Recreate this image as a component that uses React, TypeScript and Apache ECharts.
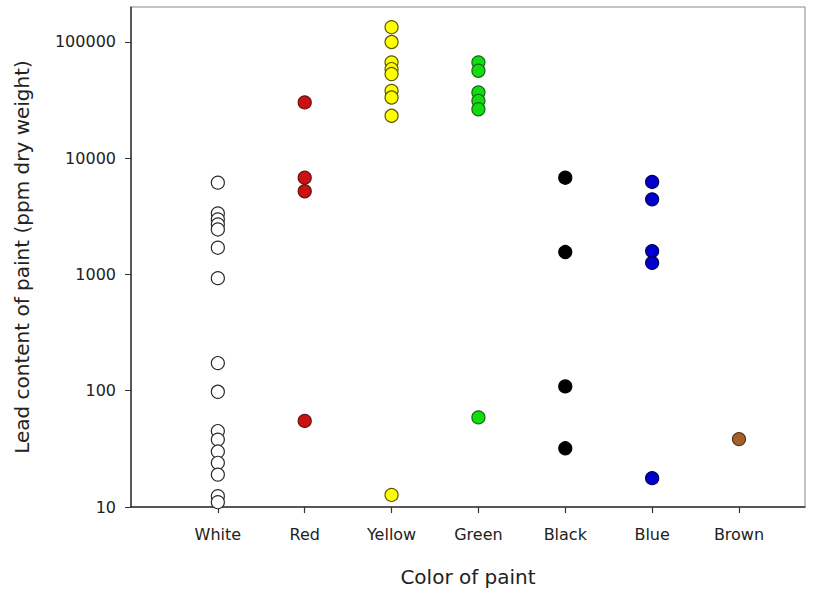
import React, { useEffect, useRef } from "react";
import * as echarts from "echarts";

const categories = ["White", "Red", "Yellow", "Green", "Black", "Blue", "Brown"];
const yTicks = [10, 100, 1000, 10000, 100000];

const whiteValues = [6170, 3350, 2980, 2700, 2440, 1700, 930, 173, 98, 45, 38, 30, 24, 19, 12.4, 11];
const redValues = [30200, 6800, 5200, 55];
const yellowValues = [134000, 100000, 66800, 58500, 53000, 38000, 33300, 23200, 12.7];
const greenValues = [66800, 56600, 36800, 31200, 26400, 59];
const blackValues = [6800, 1560, 109, 32];
const blueValues = [6250, 4430, 1590, 1260, 17.7];
const brownValues = [38.4];

const groups = [
  { values: whiteValues, fill: "#ffffff", stroke: "#2a2a2a" },
  { values: redValues, fill: "#cc1111", stroke: "#6a0f0f" },
  { values: yellowValues, fill: "#ffff00", stroke: "#5a5a00" },
  { values: greenValues, fill: "#11dd11", stroke: "#126612" },
  { values: blackValues, fill: "#000000", stroke: "#000000" },
  { values: blueValues, fill: "#0000cc", stroke: "#00005a" },
  { values: brownValues, fill: "#a0622a", stroke: "#5a3410" },
];

const FONT = "DejaVu Sans";
const xTickValues = categories.map((_, i) => i);

export default function App() {
  const ref = useRef<HTMLDivElement>(null);
  useEffect(() => {
    if (!ref.current) return;
    const chart = echarts.init(ref.current, null, { renderer: "svg" });
    chart.setOption({
      animation: false,
      backgroundColor: "#ffffff",
      grid: {
        left: 131,
        right: 12,
        top: 7,
        bottom: 84,
        show: true,
        borderColor: "#888888",
        borderWidth: 1,
        backgroundColor: "transparent",
      },
      xAxis: {
        type: "value",
        min: -1,
        max: 6.76,
        interval: 1,
        name: "Color of paint",
        nameLocation: "middle",
        nameGap: 60,
        nameTextStyle: { fontFamily: FONT, fontSize: 20, color: "#222" },
        axisLine: { show: true, onZero: false, lineStyle: { color: "#333", width: 1.5 } },
        axisTick: {
          show: true,
          length: 6,
          customValues: xTickValues,
          lineStyle: { color: "#333", width: 1.2 },
        },
        axisLabel: {
          formatter: (v: number) =>
            Math.abs(v - Math.round(v)) < 1e-6 ? categories[Math.round(v)] ?? "" : "",
          fontFamily: FONT,
          fontSize: 16,
          color: "#222",
          margin: 19,
          showMinLabel: false,
          showMaxLabel: false,
        },
        splitLine: { show: false },
      },
      yAxis: {
        type: "log",
        logBase: 10,
        min: 10,
        max: 200000,
        name: "Lead content of paint (ppm dry weight)",
        nameLocation: "middle",
        nameGap: 99,
        nameTextStyle: { fontFamily: FONT, fontSize: 20, color: "#222" },
        axisLine: { show: true, onZero: false, lineStyle: { color: "#333", width: 1.5 } },
        axisTick: {
          show: true,
          length: 6,
          customValues: yTicks,
          lineStyle: { color: "#333", width: 1 },
        },
        axisLabel: {
          customValues: yTicks,
          formatter: (v: number) => String(Math.round(v)),
          fontFamily: FONT,
          fontSize: 16,
          color: "#222",
          margin: 15,
        },
        splitLine: { show: false },
        minorTick: { show: false },
      },
      series: groups.map((g, i) => ({
        type: "scatter",
        name: categories[i],
        symbol: "circle",
        symbolSize: 13,
        data: g.values.map((v) => [i, v]),
        itemStyle: { color: g.fill, borderColor: g.stroke, borderWidth: 1.2, opacity: 1 },
      })),
    });
    return () => chart.dispose();
  }, []);
  return (
    <div
      ref={ref}
      style={{ position: "fixed", left: 0, top: 0, width: 817, height: 592 }}
    />
  );
}
